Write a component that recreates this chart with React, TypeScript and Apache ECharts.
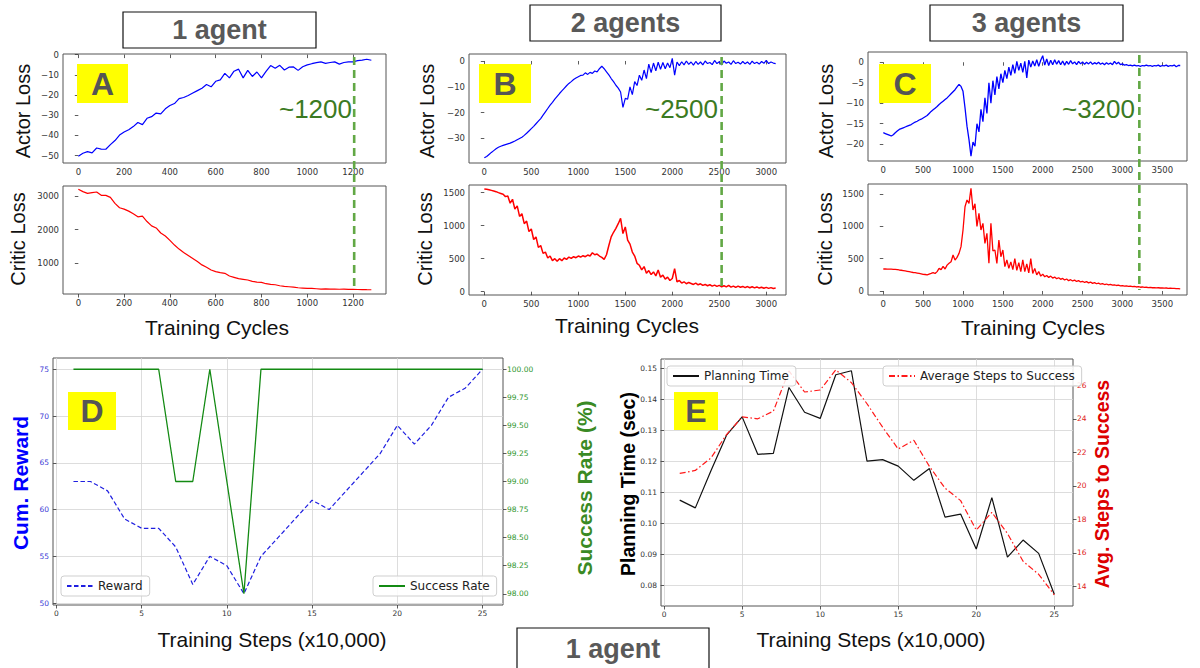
import React, { useEffect, useRef } from "react";
import * as echarts from "echarts";

// ---------- Panel A (1 agent): loss curves, sampled every 20 cycles ----------
const A_STEP = 20;
const aActor = [
  -50.3, -48.8, -48, -48.6, -46.2, -46.7, -46.8, -44.5, -42.5, -39.8,
  -38.3, -37.2, -35.6, -33.6, -34.6, -31.5, -30.7, -28.9, -29.3, -26.8,
  -25.2, -24.2, -21.8, -21.2, -20.2, -19, -17.8, -16.6, -14.8, -15.9,
  -13.2, -12.5, -9.3, -11.5, -8.2, -7.2, -11.5, -7.8, -10.8, -8.6,
  -11.5, -8.3, -5.4, -6.8, -5.3, -7.6, -6.2, -6.1, -7.8, -6,
  -5.1, -4.5, -4, -3.6, -4.3, -3.9, -3.6, -4.7, -3.9, -3.6,
  -3.6, -3, -2.7, -2.3, -2.8,
];
const aCritic = [
  3200, 3130, 3080, 3100, 3120, 3020, 3020, 2960, 2780, 2650,
  2610, 2550, 2470, 2380, 2400, 2240, 2110, 2050, 1900, 1810,
  1680, 1540, 1420, 1320, 1230, 1140, 1050, 950, 880, 800,
  750, 720, 700, 620, 580, 540, 520, 500, 460, 440,
  430, 390, 370, 360, 330, 310, 300, 290, 270, 260,
  250, 250, 240, 230, 235, 228, 232, 225, 230, 222,
  225, 218, 215, 212, 210,
];

// ---------- Panel B (2 agents): sampled every 25 cycles ----------
const B_STEP = 25;
const bActor = [
  -37.5, -37, -36.2, -35.4, -34.7, -34, -33.4, -33, -32.7, -32.4,
  -32.1, -31.8, -31.4, -31, -30.5, -30, -29.5, -28.8, -28, -27.1,
  -26.2, -25.3, -24.3, -23.3, -22.3, -21, -19.7, -18.4, -17.1, -16,
  -14.8, -13.7, -12.6, -11.6, -10.6, -9.6, -8.7, -8, -7.2, -6.6,
  -6.1, -5.6, -5.5, -4.6, -5.2, -4.4, -4.8, -3.9, -4.2, -3,
  -2, -3, -4.2, -5.4, -6.8, -8, -9.4, -10.5, -12, -18,
  -14.5, -14.8, -10, -13, -8, -9.5, -5.5, -7.5, -3.5, -6.8,
  -1.2, -4.5, -0.8, -3.8, -0.5, -3.2, -0.6, -3, -0.8, -2.6,
  1, -5.5, -0.4, -1.8, -0.3, -1.5, 0, -1.3, -0.4, -1.6,
  -0.2, -1.3, -0.4, -1.5, 0, -1, -0.6, -1.4, 0.2, -1,
  -0.3, -1.5, 0, -0.9, -0.4, -1.3, 0.1, -1, -0.5, -1.2,
  -0.2, -1.1, -0.4, -1.3, -0.1, -1, -0.5, -1.2, -0.2, -0.9,
  0.2, -1, -0.4, -0.8, -1,
];
const bCritic = [
  1555, 1550, 1545, 1535, 1525, 1515, 1500, 1488, 1475, 1440,
  1450, 1340, 1400, 1250, 1300, 1140, 1180, 1030, 1070, 910,
  950, 790, 830, 670, 700, 580, 600, 510, 540, 470,
  500, 460, 500, 470, 510, 490, 525, 505, 530, 515,
  540, 525, 545, 530, 555, 540, 590, 560, 570, 540,
  520, 490, 560, 700, 830, 900, 960, 1030, 1110, 880,
  980, 780, 720, 600, 540, 430, 400, 330, 380, 280,
  320, 260, 300, 240, 330, 220, 250, 190, 220, 170,
  200, 350, 150, 170, 130, 150, 120, 140, 125, 110,
  130, 105, 120, 95, 110, 90, 105, 85, 100, 80,
  95, 75, 90, 72, 95, 70, 85, 65, 85, 68,
  80, 62, 78, 60, 75, 58, 72, 55, 68, 52,
  65, 50, 62, 48, 55,
];

// ---------- Panel C (3 agents): sampled every 25 cycles ----------
const C_STEP = 25;
const cActor = [
  -17.2, -17.4, -17.6, -17.8, -18, -17.7, -17.2, -16.8, -16.4, -16.2,
  -16, -15.8, -15.6, -15.4, -15.2, -14.9, -14.6, -14.4, -14.1, -13.9,
  -13.6, -13.3, -13, -12.5, -12, -11.6, -11.2, -10.8, -10.3, -9.9,
  -9.5, -9.1, -8.7, -8.2, -7.7, -7.2, -6.7, -6, -5.4, -5.9,
  -7.1, -11.1, -15.6, -18.9, -22.9, -19.5, -20.5, -15, -17, -11.5,
  -14.5, -8.7, -12.5, -5, -10, -4.5, -8, -3.5, -6.5, -2.8,
  -5, -2, -4, -1.2, -3.2, -0.6, -2.7, 0.2, -2, -0.2,
  -2.5, 0.2, -3.8, 0.5, -1.2, 0.3, -0.9, 0.6, -1, 0.5,
  1.6, -0.7, 0.8, -0.8, 0.5, -0.6, 0.6, -0.5, 0.4, -0.6,
  0.3, -0.7, 0.2, -0.5, 0.4, -0.4, 0.1, -0.6, 0.2, -0.4,
  0.1, -0.5, 0, -0.4, 0.1, -0.5, -0.1, -0.4, 0, -0.5,
  -0.2, -0.6, -0.1, -0.5, -0.2, -0.6, 0.2, -0.4, 0, -0.6,
  -0.4, -0.7, -0.6, -0.8, -0.7, -0.9, -0.7, -0.9, -0.8, -1,
  -0.8, -0.9, -0.7, -0.9, -0.8, -1, -0.8, -0.9, -0.7, -1,
  -0.8, -0.9, -0.7, -1, -0.8, -0.9, -0.7, -1.1, -0.8, -0.8,
];
const cCritic = [
  340, 340, 339, 338, 337, 335, 333, 330, 325, 321,
  316, 310, 304, 298, 292, 286, 284, 278, 272, 266,
  258, 255, 250, 262, 273, 285, 270, 300, 350, 330,
  380, 340, 400, 430, 453, 557, 479, 520, 582, 686,
  943, 1304, 1407, 1356, 1588, 1252, 1350, 1000, 1200, 943,
  1046, 737, 892, 428, 1046, 620, 634, 428, 789, 530,
  634, 376, 480, 350, 450, 330, 500, 320, 440, 300,
  480, 300, 420, 280, 500, 270, 350, 250, 300, 230,
  260, 220, 240, 210, 230, 200, 215, 190, 205, 180,
  195, 170, 185, 160, 175, 155, 168, 148, 160, 140,
  150, 132, 145, 125, 138, 118, 130, 112, 122, 105,
  115, 100, 108, 95, 102, 90, 96, 85, 90, 80,
  84, 75, 78, 70, 74, 66, 70, 62, 66, 58,
  62, 56, 58, 53, 56, 50, 53, 48, 50, 46,
  48, 44, 46, 42, 44, 40, 42, 38, 38, 34,
];

// convergence markers
const convergence = [1205, 2525, 3212];
const convergenceLabels = ["~1200", "~2500", "~3200"];

// tick labels
const xTicksA = [0, 200, 400, 600, 800, 1000, 1200];
const xTicksB = [0, 500, 1000, 1500, 2000, 2500, 3000];
const xTicksC = [0, 500, 1000, 1500, 2000, 2500, 3000, 3500];
const yTicksActorA = [-50, -40, -30, -20, -10, 0];
const yTicksCriticA = [1000, 2000, 3000];
const yTicksActorB = [-30, -20, -10, 0];
const yTicksCriticB = [0, 500, 1000, 1500];
const yTicksActorC = [-20, -15, -10, -5, 0];
const yTicksCriticC = [0, 500, 1000, 1500];

// ---------- Panels D and E (1 agent) ----------
const trainingSteps = [1, 2, 3, 4, 5, 6, 7, 8, 9, 10, 11, 12, 13, 14, 15, 16, 17, 18, 19, 20, 21, 22, 23, 24, 25];
const reward = [63, 63, 62, 59, 58, 58, 56, 52, 55, 54, 51, 55, 57, 59, 61, 60, 62, 64, 66, 69, 67, 69, 72, 73, 75];
const successRate = [100, 100, 100, 100, 100, 100, 99, 99, 100, 99, 98, 100, 100, 100, 100, 100, 100, 100, 100, 100, 100, 100, 100, 100, 100];
const planningTime = [
  0.1075, 0.105, 0.117, 0.1285, 0.1344, 0.1223, 0.1226, 0.1439, 0.1359, 0.1339,
  0.148, 0.1493, 0.1201, 0.1206, 0.1185, 0.1139, 0.1177, 0.102, 0.103, 0.0917,
  0.1083, 0.0891, 0.0946, 0.0903, 0.0771,
];
const avgStepsToSuccess = [
  20.74, 20.92, 21.66, 23.06, 24.12, 24.0, 24.46, 26.86, 25.6, 25.72,
  26.92, 26.16, 24.9, 23.5, 22.2, 22.72, 21.16, 19.86, 19.12, 17.36,
  18.42, 17.16, 15.5, 14.72, 13.5,
];
const stepTicks = [0, 5, 10, 15, 20, 25];
const rewardTicks = [50, 55, 60, 65, 70, 75];
const successTicks = [98, 98.25, 98.5, 98.75, 99, 99.25, 99.5, 99.75, 100];
const planTicks = [0.08, 0.09, 0.1, 0.11, 0.12, 0.13, 0.14, 0.15];
const avgTicks = [14, 16, 18, 20, 22, 24, 26];

const TICK_FONT = "DejaVu Sans";
const LABEL_FONT = "Liberation Sans";
const fmtNum = (v: number) => (v < 0 ? "\u2212" + String(Math.abs(v)) : String(v));
const pairs = (vals: number[], step: number) => vals.map((v, i) => [i * step, v]);
const zip = (xs: number[], ys: number[]) => xs.map((x, i) => [x, ys[i]]);

function axis(gridIndex: number, min: number, max: number, ticks: number[], o: any = {}) {
  return {
    type: "value",
    gridIndex,
    min,
    max,
    position: o.position,
    axisLine: { show: false },
    axisTick: {
      show: true,
      inside: false,
      length: 3.5,
      lineStyle: { color: "#333", width: 0.8 },
      customValues: ticks,
    },
    axisLabel: {
      customValues: ticks,
      fontFamily: TICK_FONT,
      fontSize: o.fontSize ?? 8.5,
      color: o.color ?? "#333",
      margin: 4,
      formatter: o.formatter ?? fmtNum,
    },
    splitLine: {
      show: !!o.split,
      lineStyle: { color: "#d4d4d4", width: 0.8 },
    },
  };
}

export default function App() {
  const ref = useRef<HTMLDivElement>(null);

  useEffect(() => {
    const chart = echarts.init(ref.current!, null, { renderer: "svg" });

    const topPanels = [
      { g: { left: 63, top: 54, width: 323, height: 109 }, xr: [-67, 1344], xt: xTicksA, yr: [-53.6, 0.3], yt: yTicksActorA, d: pairs(aActor, A_STEP), c: "#0000ff", w: 1.2 },
      { g: { left: 63, top: 186, width: 323, height: 108 }, xr: [-67, 1344], xt: xTicksA, yr: [84, 3298], yt: yTicksCriticA, d: pairs(aCritic, A_STEP), c: "#ff0000", w: 1.2 },
      { g: { left: 469, top: 54, width: 317, height: 109 }, xr: [-163, 3210], xt: xTicksB, yr: [-39.5, 2.7], yt: yTicksActorB, d: pairs(bActor, B_STEP), c: "#0000ff", w: 1.2 },
      { g: { left: 469, top: 185, width: 317, height: 110 }, xr: [-163, 3210], xt: xTicksB, yr: [-50, 1616], yt: yTicksCriticB, d: pairs(bCritic, B_STEP), c: "#ff0000", w: 1.5 },
      { g: { left: 868, top: 52, width: 319, height: 109 }, xr: [-192, 3810], xt: xTicksC, yr: [-24.1, 2.5], yt: yTicksActorC, d: pairs(cActor, C_STEP), c: "#0000ff", w: 1.3 },
      { g: { left: 868, top: 184, width: 319, height: 111 }, xr: [-192, 3810], xt: xTicksC, yr: [-62, 1655], yt: yTicksCriticC, d: pairs(cCritic, C_STEP), c: "#ff0000", w: 1.3 },
    ];

    const gridStyle = { show: true, borderColor: "#555", borderWidth: 1, backgroundColor: "transparent" };
    const grids: any[] = topPanels.map((p) => ({ ...p.g, ...gridStyle }));
    grids.push({ left: 53, top: 358, width: 450, height: 247, ...gridStyle });
    grids.push({ left: 661, top: 359, width: 412, height: 247, ...gridStyle });

    const xAxes: any[] = topPanels.map((p, i) => axis(i, p.xr[0], p.xr[1], p.xt));
    xAxes.push(axis(6, -0.2, 26.2, stepTicks, { split: true, fontSize: 7.5 }));
    xAxes.push(axis(7, -0.2, 26.2, stepTicks, { split: true, fontSize: 7.5 }));

    const yAxes: any[] = topPanels.map((p, i) => axis(i, p.yr[0], p.yr[1], p.yt));
    yAxes.push(axis(6, 49.8, 76.2, rewardTicks, { split: true, fontSize: 7.5, color: "#3a3ad6" }));
    yAxes.push(axis(6, 97.9, 100.1, successTicks, { position: "right", fontSize: 7.5, color: "#2e962e", formatter: (v: number) => v.toFixed(2) }));
    yAxes.push(axis(7, 0.0733, 0.1531, planTicks, { split: true, fontSize: 7.5, formatter: (v: number) => v.toFixed(2) }));
    yAxes.push(axis(7, 12.83, 27.57, avgTicks, { position: "right", fontSize: 7.5, color: "#e02020" }));

    const series: any[] = topPanels.map((p, i) => ({
      type: "line",
      name: "loss" + i,
      xAxisIndex: i,
      yAxisIndex: i,
      data: p.d,
      symbol: "none",
      silent: true,
      lineStyle: { color: p.c, width: p.w },
      z: 3,
    }));
    series.push({
      type: "line", name: "Reward", xAxisIndex: 6, yAxisIndex: 6, data: zip(trainingSteps, reward),
      symbol: "none", silent: true, itemStyle: { color: "#1f1fe0" },
      lineStyle: { color: "#1f1fe0", width: 1.2, type: [4.5, 2.5] },
    });
    series.push({
      type: "line", name: "Success Rate", xAxisIndex: 6, yAxisIndex: 7, data: zip(trainingSteps, successRate),
      symbol: "none", silent: true, itemStyle: { color: "#138a13" },
      lineStyle: { color: "#138a13", width: 1.3 },
    });
    series.push({
      type: "line", name: "Planning Time", xAxisIndex: 7, yAxisIndex: 8, data: zip(trainingSteps, planningTime),
      symbol: "none", silent: true, itemStyle: { color: "#111" },
      lineStyle: { color: "#111", width: 1.2 },
    });
    series.push({
      type: "line", name: "Average Steps to Success", xAxisIndex: 7, yAxisIndex: 9, data: zip(trainingSteps, avgStepsToSuccess),
      symbol: "none", silent: true, itemStyle: { color: "#ff1a1a" },
      lineStyle: { color: "#ff1a1a", width: 1.2, type: [6, 2.5, 1.5, 2.5] },
    });

    const legendBase = {
      orient: "horizontal",
      itemWidth: 26,
      itemHeight: 10,
      selectedMode: false,
      borderColor: "#cfcfcf",
      borderWidth: 1,
      borderRadius: 3,
      padding: [4, 7, 4, 5],
      backgroundColor: "rgba(255,255,255,0.85)",
      itemStyle: { opacity: 0 },
      textStyle: { fontFamily: TICK_FONT, fontSize: 12, color: "#222" },
    };

    chart.setOption({
      animation: false,
      backgroundColor: "#fff",
      grid: grids,
      xAxis: xAxes,
      yAxis: yAxes,
      series,
      legend: [
        { ...legendBase, data: ["Reward"], left: 61, top: 576 },
        { ...legendBase, data: ["Success Rate"], left: 373, top: 576 },
        { ...legendBase, data: ["Planning Time"], left: 667, top: 366 },
        { ...legendBase, data: ["Average Steps to Success"], left: 883, top: 366 },
      ],
    });

    const txt = (x: number, y: number, text: string, o: any = {}) => ({
      type: "text",
      x,
      y,
      rotation: o.rot ?? 0,
      z: 100,
      style: {
        text,
        fill: o.fill ?? "#111",
        font: `${o.weight ?? "normal"} ${o.size ?? 20}px ${o.family ?? LABEL_FONT}`,
        align: o.align ?? "center",
        verticalAlign: "middle",
      },
    });
    const box = (x: number, y: number, w: number, h: number, fill: string, stroke?: string) => ({
      type: "rect",
      z: 99,
      shape: { x, y, width: w, height: h },
      style: { fill, stroke: stroke ?? "none", lineWidth: stroke ? 1.2 : 0 },
    });

    const R = Math.PI / 2;
    const g: any[] = [
      // group titles
      box(123, 12, 193, 36, "#fff", "#111"), txt(219.5, 30, "1 agent", { weight: "bold", size: 27, fill: "#595959" }),
      box(530, 5, 191, 36, "#fff", "#111"), txt(625.5, 23, "2 agents", { weight: "bold", size: 27, fill: "#595959" }),
      box(930, 5, 193, 36, "#fff", "#111"), txt(1026.5, 23, "3 agents", { weight: "bold", size: 27, fill: "#595959" }),
      box(517, 628, 192, 46, "#fff", "#111"), txt(613, 649, "1 agent", { weight: "bold", size: 27, fill: "#595959" }),
      // panel letters
      box(77, 64, 51, 39, "#ffff00"), txt(102.5, 84, "A", { weight: "bold", size: 32, fill: "#555" }),
      box(479, 64, 52, 39, "#ffff00"), txt(505, 84, "B", { weight: "bold", size: 32, fill: "#555" }),
      box(879, 64, 52, 39, "#ffff00"), txt(905, 84, "C", { weight: "bold", size: 32, fill: "#555" }),
      box(68, 392, 48, 38, "#ffff00"), txt(92, 411, "D", { weight: "bold", size: 32, fill: "#555" }),
      box(674, 392, 44, 38, "#ffff00"), txt(696, 411, "E", { weight: "bold", size: 32, fill: "#555" }),
      // axis titles, top row
      txt(23, 111, "Actor Loss", { rot: R }), txt(18, 239, "Critic Loss", { rot: R }),
      txt(427, 111, "Actor Loss", { rot: R }), txt(425, 239, "Critic Loss", { rot: R }),
      txt(826, 111, "Actor Loss", { rot: R }), txt(825, 239, "Critic Loss", { rot: R }),
      txt(217, 327, "Training Cycles", { size: 21 }),
      txt(627, 325, "Training Cycles", { size: 21 }),
      txt(1033, 327, "Training Cycles", { size: 21 }),
      // axis titles, bottom row
      txt(20, 483, "Cum. Reward", { rot: R, weight: "bold", size: 21, fill: "#0000ff" }),
      txt(584, 488, "Success Rate (%)", { rot: R, weight: "bold", size: 21, fill: "#3a8a24" }),
      txt(272, 639, "Training Steps (x10,000)", { size: 21 }),
      txt(628, 484, "Planning Time (sec)", { rot: R, weight: "bold", size: 19.5, fill: "#000" }),
      txt(1102, 484, "Avg. Steps to Success", { rot: R, weight: "bold", size: 19.5, fill: "#dd0000" }),
      txt(871, 639, "Training Steps (x10,000)", { size: 21 }),
    ];

    // convergence markers through actor + critic axes, placed with the axes' own scales
    const labelRight = [352, 718, 1135];
    convergence.forEach((cx, k) => {
      const px = chart.convertToPixel({ xAxisIndex: 2 * k } as any, cx) as number;
      const top = (chart.convertToPixel({ yAxisIndex: 2 * k } as any, topPanels[2 * k].yr[1]) as number) + 3;
      const bottom = (chart.convertToPixel({ yAxisIndex: 2 * k + 1 } as any, topPanels[2 * k + 1].yr[0]) as number) - 5;
      g.push({
        type: "line",
        z: 90,
        shape: { x1: px, y1: top, x2: px, y2: bottom },
        style: { stroke: "#62a845", lineWidth: 2.6, lineDash: [8, 5] },
      });
      g.push(txt(labelRight[k], 109, convergenceLabels[k], { size: 26, fill: "#3b7a22", align: "right" }));
    });

    chart.setOption({ graphic: g });

    return () => chart.dispose();
  }, []);

  return (
    <div
      ref={ref}
      style={{ position: "absolute", left: 0, top: 0, width: 1200, height: 668, background: "#fff" }}
    />
  );
}
